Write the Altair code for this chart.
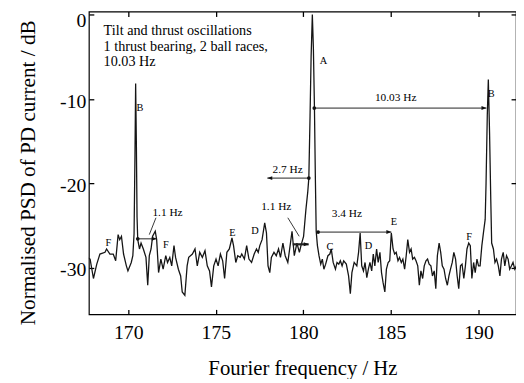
import altair as alt
import pandas as pd

# ---------------- data ----------------
FREQ = [
    167.63, 167.82, 168.01, 168.20, 168.38, 168.67, 168.76, 168.95, 169.14, 169.28,
    169.42, 169.51, 169.61, 169.73, 169.89, 169.98, 170.17, 170.26, 170.33, 170.38,
    170.42, 170.46, 170.50, 170.54, 170.64, 170.73, 170.86, 171.01, 171.11, 171.20,
    171.30, 171.39, 171.54, 171.62, 171.73, 171.86, 171.99, 172.14, 172.24, 172.37,
    172.48, 172.61, 172.70, 172.86, 172.99, 173.08, 173.23, 173.36, 173.45, 173.66,
    173.81, 173.94, 174.08, 174.23, 174.38, 174.51, 174.64, 174.75, 174.88, 175.01,
    175.13, 175.26, 175.39, 175.50, 175.63, 175.77, 175.92, 176.01, 176.14, 176.25,
    176.39, 176.48, 176.63, 176.76, 176.89, 177.04, 177.19, 177.32, 177.42, 177.51,
    177.64, 177.79, 177.89, 177.98, 178.08, 178.17, 178.32, 178.45, 178.58, 178.69,
    178.83, 178.96, 179.11, 179.26, 179.35, 179.48, 179.63, 179.77, 179.86, 180.01,
    180.14, 180.25, 180.31, 180.38, 180.44, 180.51, 180.57, 180.63, 180.68, 180.73,
    180.80, 180.89, 180.99, 181.08, 181.17, 181.27, 181.40, 181.51, 181.59, 181.70,
    181.83, 181.92, 182.02, 182.11, 182.21, 182.30, 182.45, 182.58, 182.68, 182.77,
    182.90, 183.05, 183.15, 183.24, 183.33, 183.43, 183.52, 183.62, 183.71, 183.80,
    183.90, 183.99, 184.08, 184.18, 184.27, 184.37, 184.46, 184.55, 184.65, 184.74,
    184.84, 184.93, 185.02, 185.12, 185.21, 185.30, 185.40, 185.49, 185.59, 185.68,
    185.78, 185.87, 185.96, 186.06, 186.15, 186.24, 186.34, 186.43, 186.53, 186.62,
    186.71, 186.81, 186.90, 187.00, 187.09, 187.18, 187.28, 187.37, 187.47, 187.56,
    187.65, 187.75, 187.84, 187.93, 188.03, 188.12, 188.22, 188.31, 188.40, 188.50,
    188.59, 188.69, 188.78, 188.87, 188.97, 189.06, 189.16, 189.25, 189.34, 189.44,
    189.53, 189.62, 189.72, 189.81, 189.91, 190.00, 190.09, 190.19, 190.28, 190.38,
    190.43, 190.50, 190.56, 190.63, 190.70, 190.75, 190.85, 190.94, 191.03, 191.13,
    191.22, 191.31, 191.41, 191.50, 191.60, 191.69, 191.78, 191.88, 191.97, 192.07,
    192.16,
]
PSD = [
    -28.8, -29.0, -31.3, -29.6, -28.4, -28.2, -27.8, -28.4, -28.4, -29.2,
    -26.1, -26.7, -26.3, -28.4, -29.8, -30.4, -29.4, -28.6, -26.0, -17.0,
    -8.2, -15.0, -24.0, -26.7, -27.8, -27.1, -27.8, -28.8, -32.1, -28.6,
    -27.8, -26.3, -25.7, -26.7, -30.6, -29.0, -30.2, -28.6, -29.4, -28.8,
    -29.8, -27.4, -28.8, -30.2, -31.0, -32.9, -33.3, -29.8, -28.8, -28.4,
    -27.8, -29.8, -28.2, -28.8, -28.0, -29.8, -30.4, -32.3, -29.8, -29.0,
    -29.8, -28.4, -29.2, -31.3, -28.2, -27.8, -26.5, -27.4, -29.4, -28.6,
    -28.8, -28.4, -29.0, -27.4, -29.0, -29.4, -28.4, -27.8, -28.2, -27.4,
    -26.7, -24.7, -25.9, -29.8, -30.6, -28.8, -28.2, -28.6, -27.8, -28.8,
    -27.1, -28.6, -29.4, -27.1, -25.7, -28.6, -27.1, -28.2, -27.4, -26.3,
    -23.2, -21.0, -19.4, -12.0, -5.0, 0.0, -4.0, -11.0, -19.0, -25.7,
    -27.4, -28.6, -29.6, -29.0, -30.2, -29.6, -28.6, -28.4, -27.8, -29.4,
    -30.2, -29.4, -29.6, -29.2, -29.8, -29.2, -29.6, -31.0, -33.1, -30.6,
    -29.4, -29.8, -28.2, -25.9, -29.8, -30.4, -29.4, -31.2, -30.2, -29.4,
    -30.4, -28.4, -29.8, -27.8, -29.4, -28.2, -30.6, -31.8, -32.9, -30.2,
    -29.4, -29.2, -25.9, -27.8, -28.4, -28.2, -29.2, -28.8, -29.4, -29.0,
    -30.2, -28.6, -26.7, -28.2, -27.8, -29.0, -28.8, -29.2, -29.8, -32.1,
    -30.4, -31.3, -29.8, -29.2, -29.0, -29.6, -29.8, -31.0, -30.4, -32.5,
    -28.6, -27.1, -28.2, -29.8, -30.2, -31.3, -32.1, -31.0, -30.2, -29.4,
    -28.2, -29.0, -31.0, -32.5, -29.8, -29.6, -31.3, -29.8, -27.8, -27.1,
    -27.4, -31.3, -29.4, -30.6, -29.0, -29.8, -29.8, -27.4, -25.9, -24.3,
    -20.0, -12.0, -7.7, -14.0, -22.0, -27.1, -27.8, -29.4, -29.0, -29.8,
    -31.0, -29.0, -28.2, -29.8, -28.6, -29.0, -30.2, -29.8, -29.4, -30.2,
    -29.8,
]

X_TICKS = [170, 175, 180, 185, 190]
Y_TICKS = [0, -10, -20, -30]
X_DOMAIN = [167.75, 192.14]
Y_DOMAIN = [-35.55, 0.35]
X_TITLE = "Fourier frequency / Hz"
Y_TITLE = "Normalised PSD of PD current / dB"

INSET_TEXT = ["Tilt and thrust oscillations", "1 thrust bearing, 2 ball races,", "10.03 Hz"]
INSET_X = [168.59, 168.59, 168.59]
INSET_Y = [-1.99, -3.86, -5.61]

LETTERS = ["A", "B", "B", "C", "D", "D", "E", "E", "F", "F", "F"]
LETTER_X = [181.15, 170.66, 190.73, 181.51, 177.23, 183.71, 175.95, 185.17, 168.86, 172.14, 189.47]
LETTER_Y = [-5.5, -11.1, -9.4, -27.6, -25.7, -27.4, -25.9, -24.6, -27.1, -27.3, -26.4]

SPAN_TEXT = ["10.03 Hz", "2.7 Hz", "1.1 Hz", "3.4 Hz", "1.1 Hz"]
SPAN_X = [185.27, 179.10, 178.45, 182.48, 172.24]
SPAN_Y = [-9.9, -18.5, -22.8, -23.7, -23.5]

RULE_X = [180.62, 177.94, 179.39, 179.11, 180.84, 170.54, 171.58]
RULE_X2 = [190.45, 180.31, 180.30, 179.76, 185.02, 171.62, 171.20]
RULE_Y = [-11.1, -19.4, -27.25, -24.1, -25.8, -26.6, -24.1]
RULE_Y2 = [-11.1, -19.4, -27.25, -26.3, -25.8, -26.6, -26.1]
RULE_W = [1.0, 1.0, 2.2, 0.9, 1.0, 1.0, 0.9]

HEAD_R_X = [190.45, 180.30, 185.02, 171.62]
HEAD_R_Y = [-11.1, -27.25, -25.8, -26.6]
HEAD_L_X = [177.94]
HEAD_L_Y = [-19.4]
DOT_X = [180.62, 180.31, 180.84, 170.54]
DOT_Y = [-11.1, -19.4, -25.8, -26.6]

FONT = "Liberation Serif"

spec = pd.DataFrame({"f": FREQ, "psd": PSD})
inset_df = pd.DataFrame({"x": INSET_X, "y": INSET_Y, "t": INSET_TEXT})
letter_df = pd.DataFrame({"x": LETTER_X, "y": LETTER_Y, "t": LETTERS})
span_df = pd.DataFrame({"x": SPAN_X, "y": SPAN_Y, "t": SPAN_TEXT})
rule_df = pd.DataFrame({"x": RULE_X, "x2": RULE_X2, "y": RULE_Y, "y2": RULE_Y2, "w": RULE_W})
headr_df = pd.DataFrame({"x": HEAD_R_X, "y": HEAD_R_Y})
headl_df = pd.DataFrame({"x": HEAD_L_X, "y": HEAD_L_Y})
dot_df = pd.DataFrame({"x": DOT_X, "y": DOT_Y})

xs = alt.Scale(domain=X_DOMAIN, nice=False, zero=False)
ys = alt.Scale(domain=Y_DOMAIN, nice=False, zero=False)

common_axis = dict(domain=False, grid=False, offset=-5, tickSize=5, tickColor="black",
                   tickWidth=1.3, labelFont=FONT, labelColor="black", titleFont=FONT,
                   titleColor="black", titleFontWeight="normal")

x_bottom = alt.Axis(orient="bottom", values=X_TICKS, title=X_TITLE, labelFontSize=20,
                    labelPadding=8, labelOverlap=False, titleFontSize=21, titleY=60,
                    titleBaseline="middle", **common_axis)
y_left = alt.Axis(orient="left", values=Y_TICKS, title=Y_TITLE, labelFontSize=20,
                  labelPadding=3,
                  labelOffset={"condition": {"test": "datum.value == 0", "value": 6.5},
                               "value": 2.5},
                  labelExpr="'' + datum.value",
                  labelOverlap=False, titleFontSize=21.5, titleAngle=-90, titleX=-66,
                  titleY=163, titleBaseline="middle", **common_axis)
x_top = alt.Axis(orient="top", values=X_TICKS, labels=False, title=None, **common_axis)
y_right = alt.Axis(orient="right", values=Y_TICKS, labels=False, title=None, **common_axis)


def X(field, axis=None):
    return alt.X(f"{field}:Q", scale=xs, axis=axis)


def Y(field, axis=None):
    return alt.Y(f"{field}:Q", scale=ys, axis=axis)


line = alt.Chart(spec).mark_line(color="#151515", strokeWidth=1.3, clip=True).encode(
    x=X("f", x_bottom), y=Y("psd", y_left)
)

inset = alt.Chart(inset_df).mark_text(
    align="left", baseline="middle", font=FONT, fontSize=14.4, color="black"
).encode(x=X("x", x_top), y=Y("y", y_right), text="t:N")

letters = alt.Chart(letter_df).mark_text(
    align="center", baseline="middle", font=FONT, fontSize=10.5, color="black"
).encode(x=X("x"), y=Y("y"), text="t:N")

spans = alt.Chart(span_df).mark_text(
    align="center", baseline="middle", font=FONT, fontSize=11.5, color="black"
).encode(x=X("x"), y=Y("y"), text="t:N")

rules = alt.Chart(rule_df).mark_rule(color="#222222").encode(
    x=X("x"), x2="x2:Q", y=Y("y"), y2="y2:Q",
    strokeWidth=alt.StrokeWidth("w:Q", scale=None),
)

heads_r = alt.Chart(headr_df).mark_point(
    shape="M0,0L-1,-0.4L-1,0.4Z", filled=True, size=100, color="#111111", opacity=1
).encode(x=X("x"), y=Y("y"))

heads_l = alt.Chart(headl_df).mark_point(
    shape="M0,0L1,-0.4L1,0.4Z", filled=True, size=100, color="#111111", opacity=1
).encode(x=X("x"), y=Y("y"))

dots = alt.Chart(dot_df).mark_point(
    shape="circle", filled=True, size=14, color="#111111", opacity=1
).encode(x=X("x"), y=Y("y"))

chart = alt.layer(line, inset, letters, spans, rules, heads_r, heads_l, dots).resolve_axis(
    x="independent", y="independent"
).properties(
    width=433,
    height=307,
    padding={"left": 82, "top": 1, "right": 0, "bottom": 63},
    autosize=alt.AutoSizeParams(type="none"),
    background="white",
).configure_view(stroke="black", strokeWidth=1.2)

chart.save("out.html", embed_options={"renderer": "svg", "actions": False})
